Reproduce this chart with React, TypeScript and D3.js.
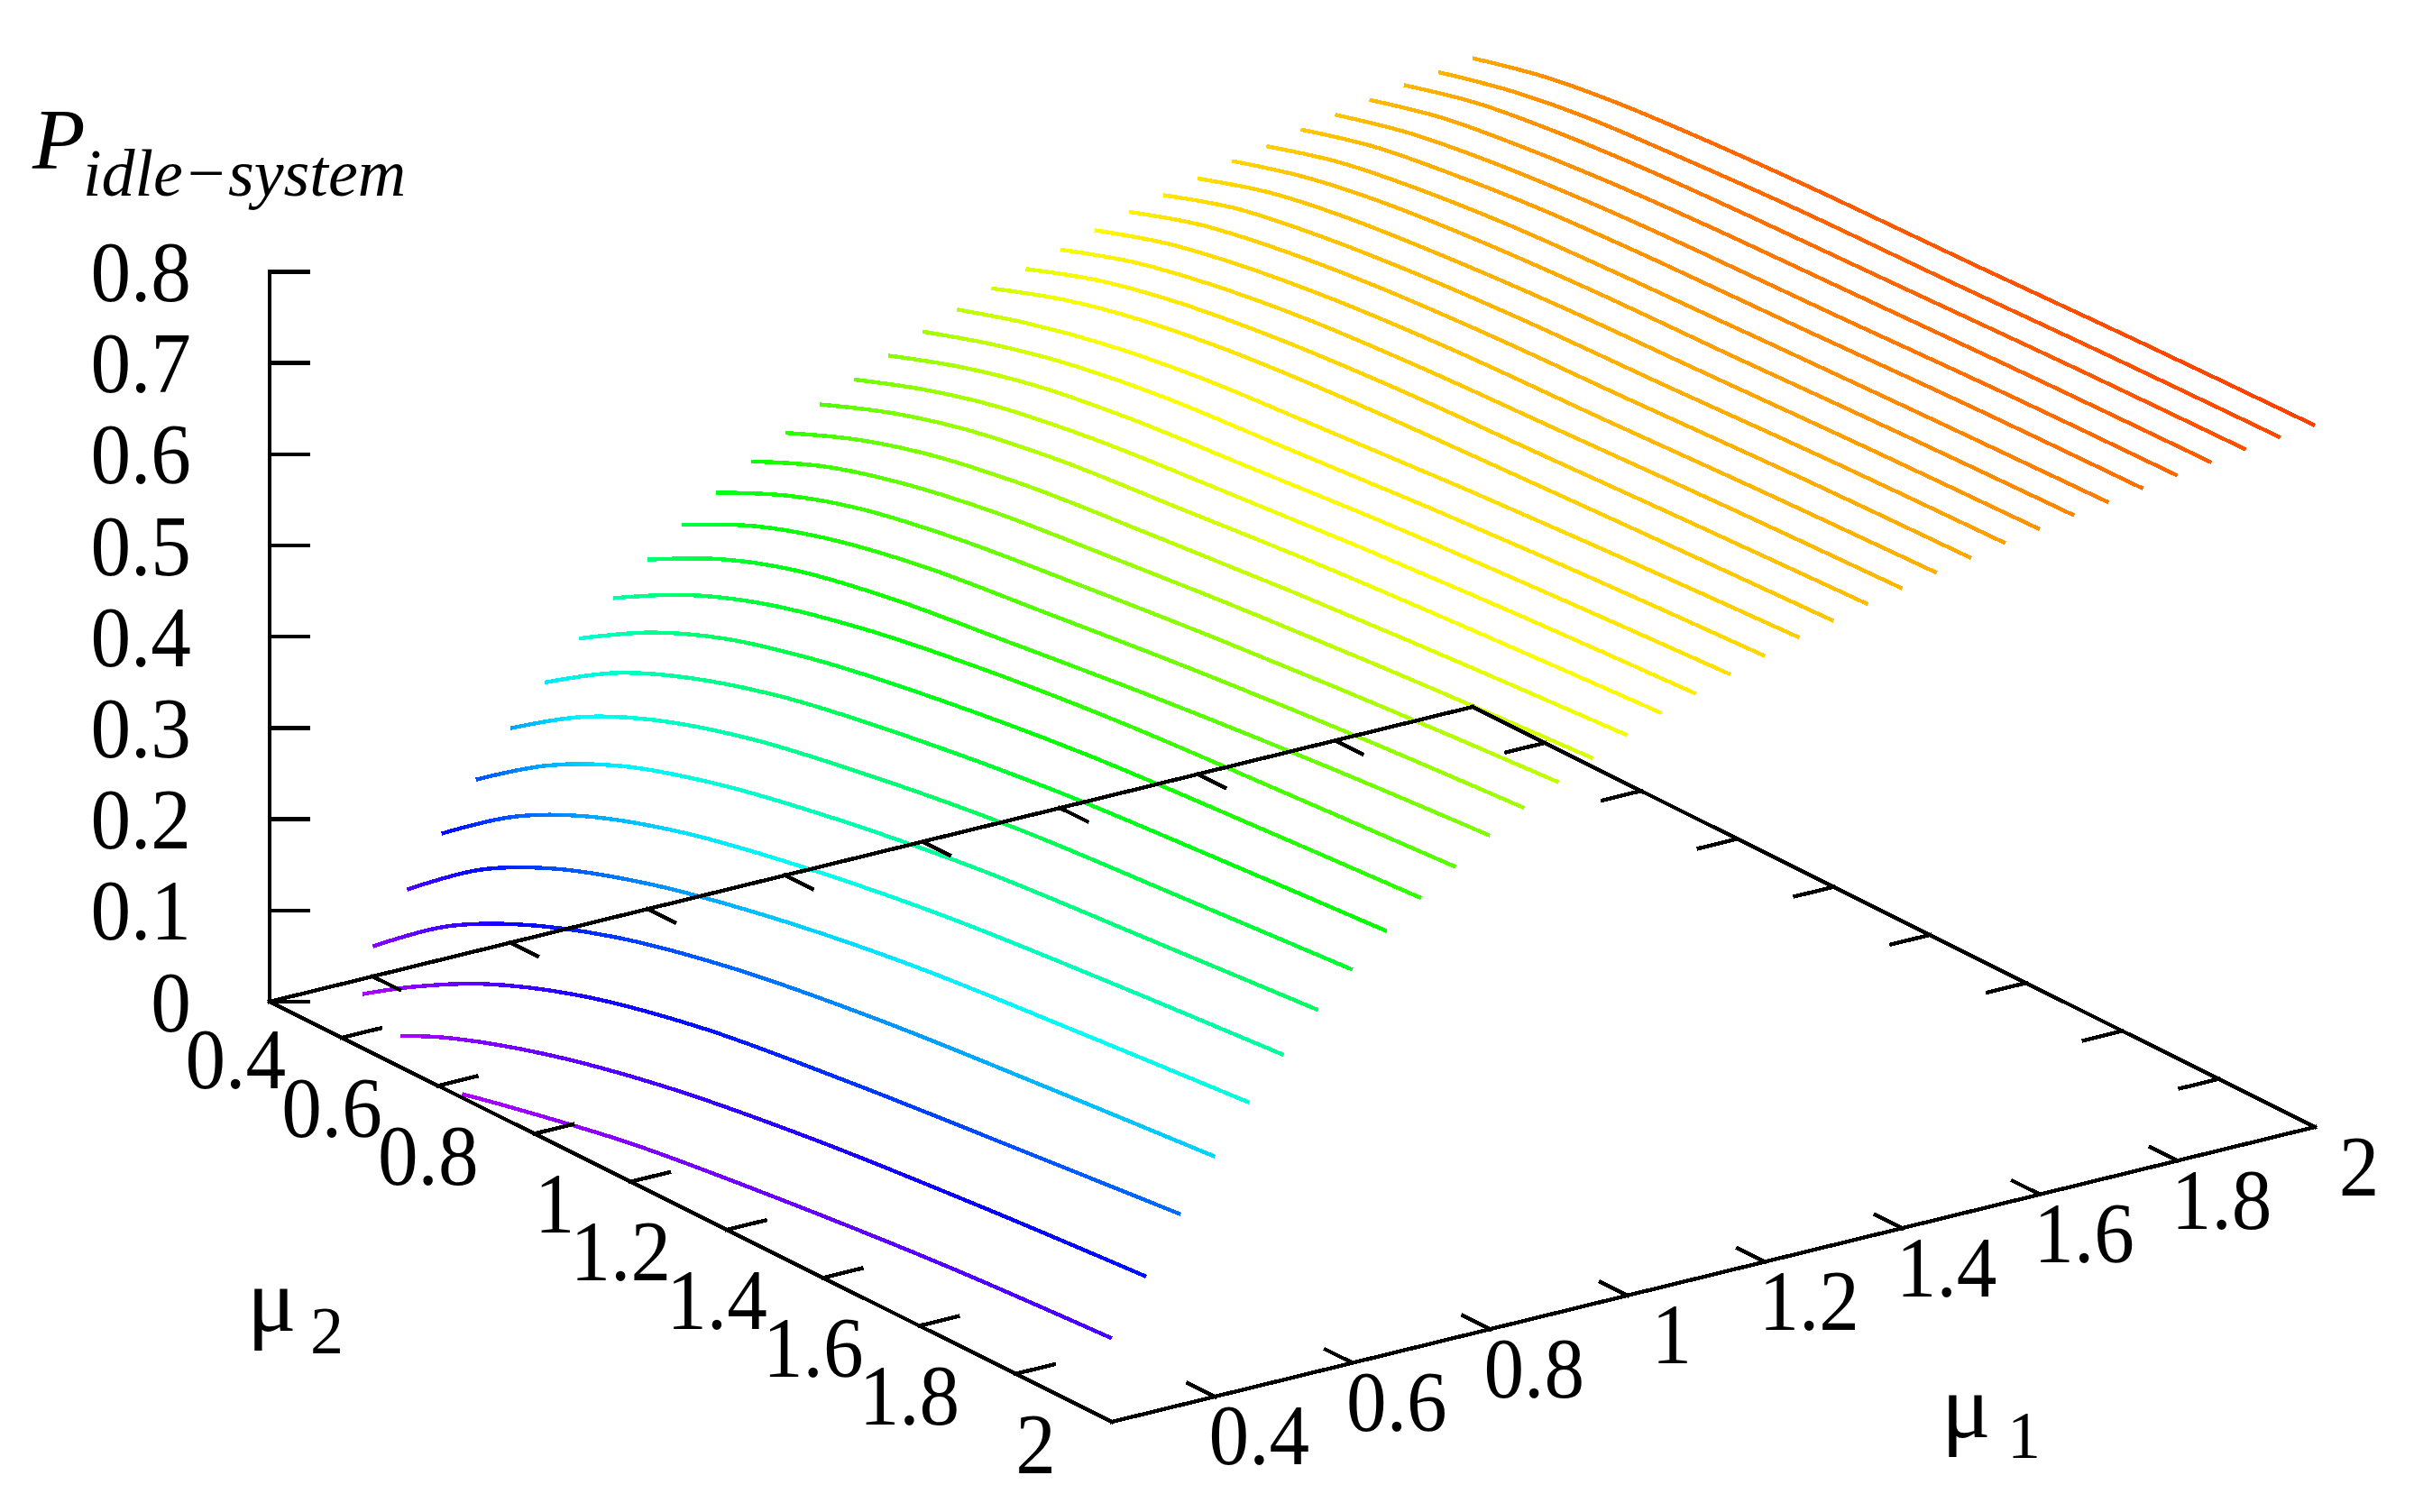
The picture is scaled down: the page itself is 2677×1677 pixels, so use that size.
import React from "react";
import * as d3 from "d3";

const MU_RANGE = [0.25, 2];
const Z_RANGE = [0, 0.8];
const MU_TICKS = [0.4, 0.6, 0.8, 1, 1.2, 1.4, 1.6, 1.8, 2];
const MU_TICK_LABELS = ["0.4", "0.6", "0.8", "1", "1.2", "1.4", "1.6", "1.8", "2"];
const Z_TICKS = [0, 0.1, 0.2, 0.3, 0.4, 0.5, 0.6, 0.7, 0.8];
const Z_TICK_LABELS = ["0", "0.1", "0.2", "0.3", "0.4", "0.5", "0.6", "0.7", "0.8"];
const MU2_GRID = [0.25, 0.4, 0.55, 0.75, 1, 1.3, 1.65, 2];
const MU1_VALUES = [0.25,0.3,0.35,0.4,0.45,0.5,0.55,0.6,0.65,0.7,0.75,0.8,0.85,0.9,0.95,1,1.05,1.1,1.15,1.2,1.25,1.3,1.35,1.4,1.45,1.5,1.55,1.6,1.65,1.7,1.75,1.8,1.85,1.9,1.95,2];
const CURVE_START_MU2 = [0.65, 0.45, 0.3];
const CURVE_Z = [
  [.004,.016,.042,.062,.080,.0915],
  [.006,.030,.065,.095,.118,.136,.150],
  [.003,.037,.080,.120,.151,.172,.191,.209],
  [.033,.094,.136,.175,.206,.229,.247,.263],
  [.086,.147,.188,.224,.254,.279,.297,.313],
  [.138,.196,.236,.271,.299,.323,.341,.356],
  [.188,.243,.282,.315,.342,.365,.381,.396],
  [.235,.287,.323,.355,.380,.402,.417,.431],
  [.276,.326,.360,.391,.415,.436,.451,.464],
  [.315,.361,.394,.422,.445,.465,.479,.491],
  [.350,.393,.424,.451,.473,.491,.504,.516],
  [.383,.423,.451,.473,.490,.509,.527,.541],
  [.412,.450,.476,.498,.514,.532,.549,.562],
  [.438,.474,.499,.519,.535,.552,.568,.581],
  [.463,.497,.520,.540,.555,.571,.586,.598],
  [.485,.517,.540,.559,.573,.588,.602,.614],
  [.507,.537,.559,.577,.590,.605,.618,.629],
  [.525,.553,.574,.591,.604,.618,.631,.641],
  [.542,.569,.589,.605,.617,.631,.643,.653],
  [.559,.584,.603,.619,.630,.643,.655,.664],
  [.574,.598,.616,.632,.643,.655,.666,.675],
  [.588,.615,.634,.650,.661,.669,.677,.684],
  [.600,.627,.645,.660,.671,.678,.686,.693],
  [.612,.638,.655,.670,.680,.687,.695,.701],
  [.624,.649,.665,.679,.689,.695,.703,.709],
  [.635,.660,.675,.688,.697,.703,.711,.716],
  [.644,.669,.683,.695,.704,.710,.718,.723],
  [.653,.677,.691,.702,.711,.717,.724,.729],
  [.663,.685,.699,.710,.718,.723,.730,.735],
  [.670,.692,.705,.716,.723,.729,.735,.740],
  [.679,.700,.712,.723,.730,.735,.742,.746],
  [.686,.706,.718,.728,.735,.740,.747,.751],
  [.693,.713,.724,.734,.741,.746,.752,.756],
  [.700,.720,.731,.740,.746,.751,.757,.761],
  [.705,.724,.736,.744,.751,.755,.761,.765],
  [.711,.730,.741,.749,.755,.759,.765,.769],
];
const PALETTE_Z = [0, 0.1, 0.14, 0.21, 0.255, 0.29, 0.46, 0.62, 0.72, 0.8];
const PALETTE_COLORS = ["#b400ff", "#3c00ff", "#0000ff", "#006eff", "#00c8ff", "#00ffff", "#00ff00", "#ffff00", "#ffa500", "#ff0000"];

const ORIGIN = { x: 299, y: 1111 };
const mu1X = d3.scaleLinear().domain(MU_RANGE).range([0, 1334]);
const mu1Y = d3.scaleLinear().domain(MU_RANGE).range([0, -327]);
const mu2X = d3.scaleLinear().domain(MU_RANGE).range([0, 934]);
const mu2Y = d3.scaleLinear().domain(MU_RANGE).range([0, 466]);
const zY = d3.scaleLinear().domain(Z_RANGE).range([0, -809.5]);
const color = d3.scaleLinear<string>().domain(PALETTE_Z).range(PALETTE_COLORS).interpolate(d3.interpolateRgb);

const project = (m1: number, m2: number, z = 0): [number, number] => [
  ORIGIN.x + mu1X(m1) + mu2X(m2),
  ORIGIN.y + mu1Y(m1) + mu2Y(m2) + zY(z),
];
const line = d3.line<[number, number]>().curve(d3.curveCatmullRom.alpha(0.5));
const TICK = 0.056;
const FONT = "'Liberation Serif', 'Times New Roman', serif";
const SIZE = 96;
const SX = 0.93;
const INK = "#000";
const STROKE = 4.4;

function seg(key: string, a: [number, number], b: [number, number]) {
  return <line key={key} x1={a[0]} y1={a[1]} x2={b[0]} y2={b[1]} stroke={INK} strokeWidth={STROKE} strokeLinecap="square" shapeRendering="crispEdges" />;
}
function label(key: string | number, x: number, y: number, s: string, anchor: string) {
  return <text key={key} transform={`translate(${x},${y}) scale(${SX},1)`} textAnchor={anchor}>{s}</text>;
}

export default function App() {
  const [lo, hi] = MU_RANGE;
  const curves = CURVE_Z.map((vals, i) => {
    const start = i < CURVE_START_MU2.length ? CURVE_START_MU2[i] : MU2_GRID[0];
    const mus = [start, ...MU2_GRID.filter((m) => m > start)];
    const pts = mus.map((m, j) => project(MU1_VALUES[i], m, vals[j]));
    return { i, vals, mus, pts };
  });
  return (
    <svg width={2677} height={1677} style={{ position: "absolute", left: 0, top: 0, background: "#fff" }}>
      <defs>
        {curves.map((c) => (
          <linearGradient key={c.i} id={`g${c.i}`} gradientUnits="userSpaceOnUse" x1={c.pts[0][0]} y1={0} x2={c.pts[c.pts.length - 1][0]} y2={0}>
            {c.pts.map((p, j) => (
              <stop key={j} offset={(p[0] - c.pts[0][0]) / (c.pts[c.pts.length - 1][0] - c.pts[0][0])} stopColor={color(c.vals[j])} />
            ))}
          </linearGradient>
        ))}
      </defs>
      {/* curves */}
      {curves.map((c) => (
        <path key={c.i} d={line(c.pts) ?? ""} fill="none" stroke={`url(#g${c.i})`} strokeWidth={STROKE} shapeRendering="crispEdges" />
      ))}
      {/* base frame */}
      {seg("ab", project(lo, lo), project(hi, lo))}
      {seg("bc", project(hi, lo), project(hi, hi))}
      {seg("cd", project(hi, hi), project(lo, hi))}
      {seg("da", project(lo, hi), project(lo, lo))}
      {seg("zaxis", project(lo, lo, 0), project(lo, lo, 0.8))}
      {MU_TICKS.map((t) => (
        <g key={t}>
          {t < hi && seg("f2", project(lo, t), project(lo + TICK, t))}
          {t < hi && seg("b2", project(hi, t), project(hi - TICK, t))}
          {t < hi && seg("f1", project(t, hi), project(t, hi - TICK))}
          {t < hi && seg("b1", project(t, lo), project(t, lo + TICK))}
        </g>
      ))}
      {Z_TICKS.map((t) => {
        const p = project(lo, lo, t);
        return seg(`z${t}`, p, [p[0] + 43, p[1]]);
      })}
      <g fontFamily={FONT} fontSize={SIZE} fill={INK}>
        {Z_TICKS.map((t, i) => label(t, 212, project(lo, lo, t)[1] + 32.5, Z_TICK_LABELS[i], "end"))}
        {MU_TICKS.map((t, i) => {
          const p = project(lo, t);
          return label(`m2${t}`, p[0] - 62, p[1] + 24 + 32.5, MU_TICK_LABELS[i], "end");
        })}
        {MU_TICKS.map((t, i) => {
          const p = project(t, hi);
          return label(`m1${t}`, p[0] + 49, p[1] + 43 + 32.5, MU_TICK_LABELS[i], "middle");
        })}
        <text x={36} y={187} fontSize={96} fontStyle="italic">P</text>
        <text x={92} y={217} fontStyle="italic" fontSize={74}>idle−system</text>
        <text x={274} y={1476} fontSize={102}>μ</text>
        <text x={344} y={1501} fontSize={74}>2</text>
        <text x={2153} y={1594} fontSize={102}>μ</text>
        <text x={2226} y={1617} fontSize={74}>1</text>
      </g>
    </svg>
  );
}
